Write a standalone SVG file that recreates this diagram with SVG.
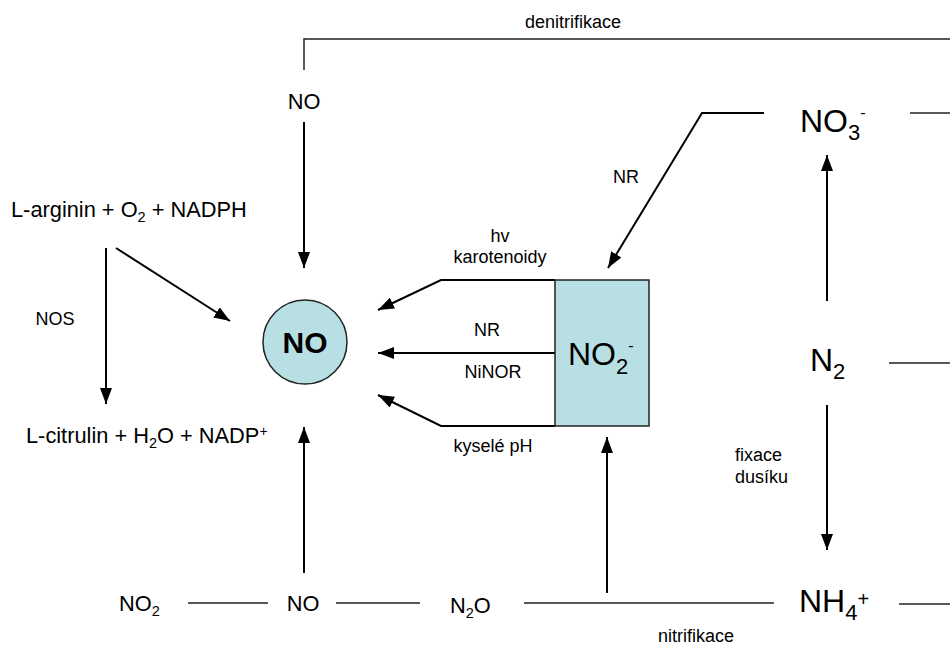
<svg xmlns="http://www.w3.org/2000/svg" width="950" height="646" viewBox="0 0 950 646">
<style>
text{font-family:"Liberation Sans",Arial,sans-serif;fill:#000}
.s{font-size:18px}
.m{font-size:21.8px}
.b{font-size:32px}
.ln{fill:none;stroke:#222;stroke-width:1.5}
.ar{fill:none;stroke:#000;stroke-width:2;marker-end:url(#ah)}
.fill{fill:#b8dfe3;stroke:#222;stroke-width:1.5}
</style>
<defs>
<marker id="ah" markerUnits="userSpaceOnUse" markerWidth="18" markerHeight="12" refX="16" refY="6" orient="auto">
<path d="M0,0 L16,6 L0,12 Z" fill="#000"/>
</marker>
</defs>
<g id="connectors">
<polyline class="ln" points="304,70 304,39 950,39"/>
<line class="ar" x1="304" y1="122" x2="304" y2="268"/>
<line class="ar" x1="304" y1="573" x2="304" y2="427"/>
<line class="ar" x1="106" y1="248" x2="106" y2="404"/>
<line class="ar" x1="116" y1="248" x2="230" y2="321"/>
<polyline class="ar" points="555,280 441,280 378,310"/>
<line class="ar" x1="555" y1="353" x2="378" y2="353"/>
<polyline class="ar" points="555,426 441,426 378,395"/>
<polyline class="ar" points="764,113 702,113 608,268"/>
<line class="ar" x1="827" y1="301" x2="827" y2="155"/>
<line class="ar" x1="827" y1="405" x2="827" y2="550"/>
<line class="ar" x1="607" y1="593" x2="607" y2="437"/>
<line class="ln" x1="910" y1="113" x2="950" y2="113"/>
<line class="ln" x1="889" y1="363" x2="950" y2="363"/>
<line class="ln" x1="899" y1="604" x2="950" y2="604"/>
<line class="ln" x1="188" y1="603" x2="268" y2="603"/>
<line class="ln" x1="336" y1="603" x2="420" y2="603"/>
<line class="ln" x1="524" y1="603" x2="774" y2="603"/>
</g>
<g id="labels">
<text class="s" x="573" y="28" text-anchor="middle">denitrifikace</text>
<text class="s" x="55" y="325" text-anchor="middle">NOS</text>
<text class="s" x="500" y="242" text-anchor="middle">hv</text>
<text class="s" x="500" y="263" text-anchor="middle">karotenoidy</text>
<text class="s" x="487" y="336" text-anchor="middle">NR</text>
<text class="s" x="493" y="378" text-anchor="middle">NiNOR</text>
<text class="s" x="493" y="452" text-anchor="middle">kyselé pH</text>
<text class="s" x="626" y="183" text-anchor="middle">NR</text>
<text class="s" x="735" y="461">fixace</text>
<text class="s" x="735" y="483">dusíku</text>
<text class="s" x="696" y="642" text-anchor="middle">nitrifikace</text>
</g>
<g id="node-no-top"><text class="m" x="304" y="109" text-anchor="middle">NO</text></g>
<g id="node-arginin"><text class="m" x="11" y="217">L-arginin + O<tspan font-size="14.5" dy="5">2</tspan><tspan dy="-5"> + NADPH</tspan></text></g>
<g id="node-citrulin"><text class="m" x="26" y="443">L-citrulin + H<tspan font-size="14.5" dy="5">2</tspan><tspan dy="-5">O + NADP</tspan><tspan font-size="14" dy="-7">+</tspan></text></g>
<g id="node-no-center">
<circle class="fill" cx="305" cy="342" r="42"/>
<text x="305" y="353" text-anchor="middle" font-size="30" font-weight="bold">NO</text>
</g>
<g id="node-no2-box">
<rect class="fill" x="555" y="280" width="94" height="146"/>
<text class="b" x="568" y="365">NO<tspan font-size="22" dy="9">2</tspan><tspan font-size="16" dy="-23">-</tspan></text>
</g>
<g id="node-no3"><text class="b" x="800" y="132">NO<tspan font-size="22" dy="8">3</tspan><tspan font-size="16" dy="-22">-</tspan></text></g>
<g id="node-n2"><text class="b" x="810" y="371">N<tspan font-size="22" dy="8">2</tspan></text></g>
<g id="node-nh4"><text class="b" x="799" y="612">NH<tspan font-size="22" dy="8">4</tspan><tspan font-size="20" dy="-14">+</tspan></text></g>
<g id="node-no2-bottom"><text class="m" x="119" y="611">NO<tspan font-size="14.5" dy="5">2</tspan></text></g>
<g id="node-no-bottom"><text class="m" x="303" y="611" text-anchor="middle">NO</text></g>
<g id="node-n2o"><text class="m" x="450" y="613">N<tspan font-size="14.5" dy="5">2</tspan><tspan dy="-5">O</tspan></text></g>
</svg>
